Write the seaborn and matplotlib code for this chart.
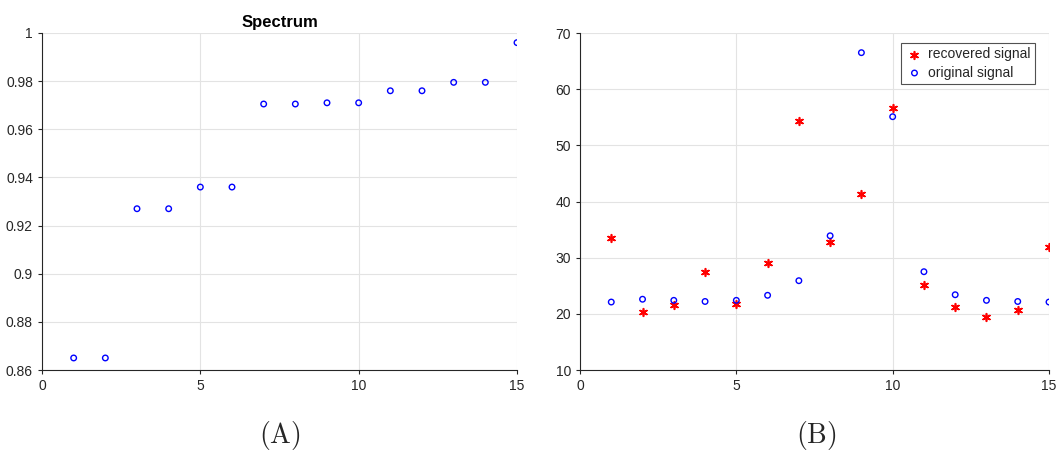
import matplotlib
matplotlib.use("Agg")
import matplotlib.pyplot as plt
import seaborn as sns
import pandas as pd

# data
idx = list(range(1, 16))
spectrum = [0.865, 0.865, 0.927, 0.927, 0.936, 0.936, 0.9705, 0.9705,
            0.971, 0.971, 0.976, 0.976, 0.9795, 0.9795, 0.996]
original = [22.1, 22.6, 22.4, 22.2, 22.4, 23.3, 25.9, 33.9,
            66.5, 55.1, 27.5, 23.4, 22.4, 22.2, 22.1]
recovered = [33.5, 20.4, 21.5, 27.4, 21.8, 29.1, 54.4, 32.8,
             41.3, 56.7, 25.2, 21.3, 19.5, 20.6, 31.9]

sns.set_style("white")
plt.rcParams['font.family'] = ['Liberation Sans', 'DejaVu Sans']
plt.rcParams['mathtext.fontset'] = 'cm'

fig = plt.figure(figsize=(10.59, 4.55), dpi=100)
W, H = 1059, 455
ax1 = fig.add_axes([42 / W, 1 - 370 / H, (517 - 42) / W, (370 - 33) / H])
ax2 = fig.add_axes([580 / W, 1 - 370 / H, (1049 - 580) / W, (370 - 33) / H])

df1 = pd.DataFrame({"x": idx, "y": spectrum})
sns.scatterplot(data=df1, x="x", y="y", ax=ax1, marker="o", s=16,
                facecolors="none", edgecolor="#0000ff", linewidth=1.0)

df2 = pd.DataFrame({"x": idx * 2,
                    "y": recovered + original,
                    "series": ["recovered signal"] * 15 + ["original signal"] * 15})
sns.scatterplot(data=df2[df2.series == "recovered signal"], x="x", y="y", ax=ax2,
                marker=(6, 2, 0), s=30, color="#ff0000", linewidth=1.2,
                label="recovered signal")
sns.scatterplot(data=df2[df2.series == "original signal"], x="x", y="y", ax=ax2,
                marker="o", s=16, facecolors="none", edgecolor="#0000ff",
                linewidth=1.0, label="original signal")

grey = "#262626"
for ax in (ax1, ax2):
    ax.set_xlim(0, 15)
    ax.set_xticks([0, 5, 10, 15])
    ax.grid(True, color="#e3e3e3", linewidth=0.8)
    ax.set_axisbelow(True)
    for side in ("top", "right"):
        ax.spines[side].set_visible(False)
    for side in ("left", "bottom"):
        ax.spines[side].set_color(grey)
        ax.spines[side].set_linewidth(0.8)
    ax.tick_params(direction="out", length=3, width=0.8, colors=grey,
                   labelsize=10, left=True, bottom=True)
    ax.set_xlabel("")
    ax.set_ylabel("")

ax1.set_ylim(0.86, 1.0)
ax1.set_yticks([0.86, 0.88, 0.9, 0.92, 0.94, 0.96, 0.98, 1.0])
ax1.set_yticklabels(["0.86", "0.88", "0.9", "0.92", "0.94", "0.96", "0.98", "1"])
ax1.set_title("Spectrum", fontsize=12, fontweight="bold", color="black", pad=4)

ax2.set_ylim(10, 70)
ax2.set_yticks([10, 20, 30, 40, 50, 60, 70])

leg = ax2.legend(loc="upper right", frameon=True, fancybox=False, fontsize=10,
                 borderpad=0.3, handletextpad=0.3, labelspacing=0.3,
                 bbox_to_anchor=(0.985, 0.99), handlelength=1.4)
leg.get_frame().set_edgecolor(grey)
leg.get_frame().set_linewidth(0.8)

fig.text(280 / W, 1 - 443 / H, r"$(\mathrm{A})$", fontsize=20, ha="center")
fig.text(816 / W, 1 - 443 / H, r"$(\mathrm{B})$", fontsize=20, ha="center")

fig.savefig("out.png", dpi=100)
